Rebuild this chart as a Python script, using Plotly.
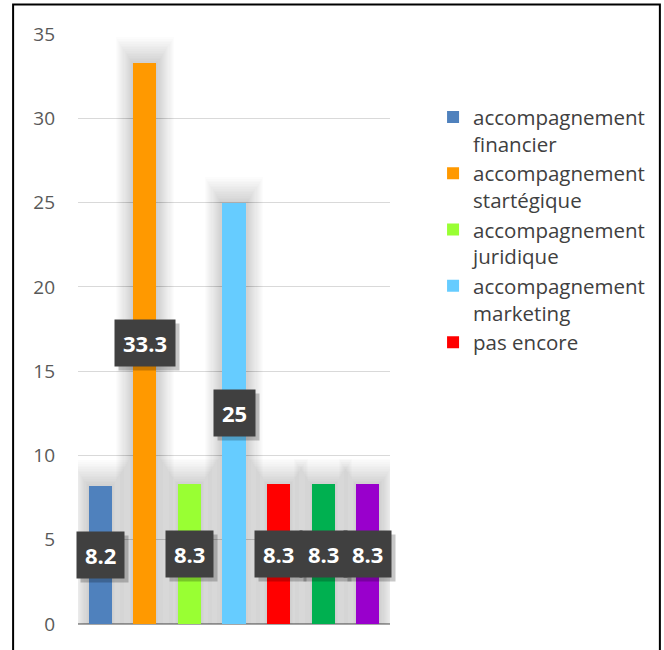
import plotly.graph_objects as go

# Bar data
categories = ["financier", "stratégique", "juridique", "marketing", "pas encore", "autre A", "autre B"]
values = [8.2, 33.3, 8.3, 25, 8.3, 8.3, 8.3]
legend_names = [
    "accompagnement<br>financier",
    "accompagnement<br>startégique",
    "accompagnement<br>juridique",
    "accompagnement<br>marketing",
    "pas encore",
]
colors = ["#4F81BD", "#FF9900", "#99FF33", "#66CCFF", "#FF0000", "#00B050", "#9900CC"]
y_ticks = [0, 5, 10, 15, 20, 25, 30, 35]

FONT = "Open Sans"
fig = go.Figure()

# soft haze behind the bars
n_layers = 16
for k in range(n_layers):
    fig.add_trace(go.Bar(
        x=categories, y=[v + 0.1 * k for v in values],
        width=[0.56 + 0.05 * k] * len(values),
        marker=dict(color="rgba(0,0,0,0.011)", line=dict(width=0)),
        showlegend=False, hoverinfo="skip",
    ))

# coloured bars
for i, (c, v, col) in enumerate(zip(categories, values, colors)):
    fig.add_trace(go.Bar(
        x=[c], y=[v], width=0.52,
        marker=dict(color=col, line=dict(width=0)),
        name=legend_names[i] if i < len(legend_names) else c,
        showlegend=i < len(legend_names),
    ))


def blank_like(s):
    # spaces with the same advance widths as the label's characters
    return "".join("\u2008" if ch == "." else "\u2007" for ch in s)


# value labels: dark boxes centred on each bar, with a drop shadow
for c, v in zip(categories, values):
    label = f"{v:g}"
    fig.add_annotation(
        x=c, y=v / 2, text=f"<b>{blank_like(label)}</b>", showarrow=False,
        xshift=4, yshift=-4,
        font=dict(family=FONT, size=22, color="rgba(0,0,0,0)"),
        bgcolor="rgba(0,0,0,0.22)", borderpad=8,
    )
    fig.add_annotation(
        x=c, y=v / 2, text=f"<b>{label}</b>", showarrow=False,
        font=dict(family=FONT, size=22, color="white"),
        bgcolor="#404040", borderpad=8,
    )

# outer frame
fig.add_shape(type="rect", xref="paper", yref="paper",
              x0=-0.208, x1=1.865, y0=-0.2, y1=1.05,
              line=dict(color="black", width=2), fillcolor="rgba(0,0,0,0)", layer="below")

fig.update_layout(
    width=664, height=650,
    margin=dict(l=78, r=274, t=34, b=26),
    paper_bgcolor="white", plot_bgcolor="white",
    barmode="overlay", bargap=0,
    font=dict(family=FONT, color="#595959"),
    legend=dict(
        x=1.138, y=0.893, xanchor="left", yanchor="top",
        font=dict(family=FONT, size=20.5, color="#404040"),
        valign="top", itemwidth=30, tracegroupgap=0,
        bgcolor="rgba(0,0,0,0)",
    ),
    showlegend=True,
)
fig.update_xaxes(showticklabels=False, showgrid=False, zeroline=False,
                 showline=False, ticks="", categoryorder="array", categoryarray=categories,
                 range=[-0.5, len(categories) - 0.5])
fig.update_yaxes(range=[0, 35], tickvals=y_ticks, showgrid=True, gridcolor="#D9D9D9",
                 gridwidth=1, zeroline=True, zerolinecolor="#A6A6A6", zerolinewidth=2,
                 showline=False, ticks="", tickfont=dict(size=19, color="#595959"),
                 ticklabelstandoff=22)

fig.write_html("out.html")
